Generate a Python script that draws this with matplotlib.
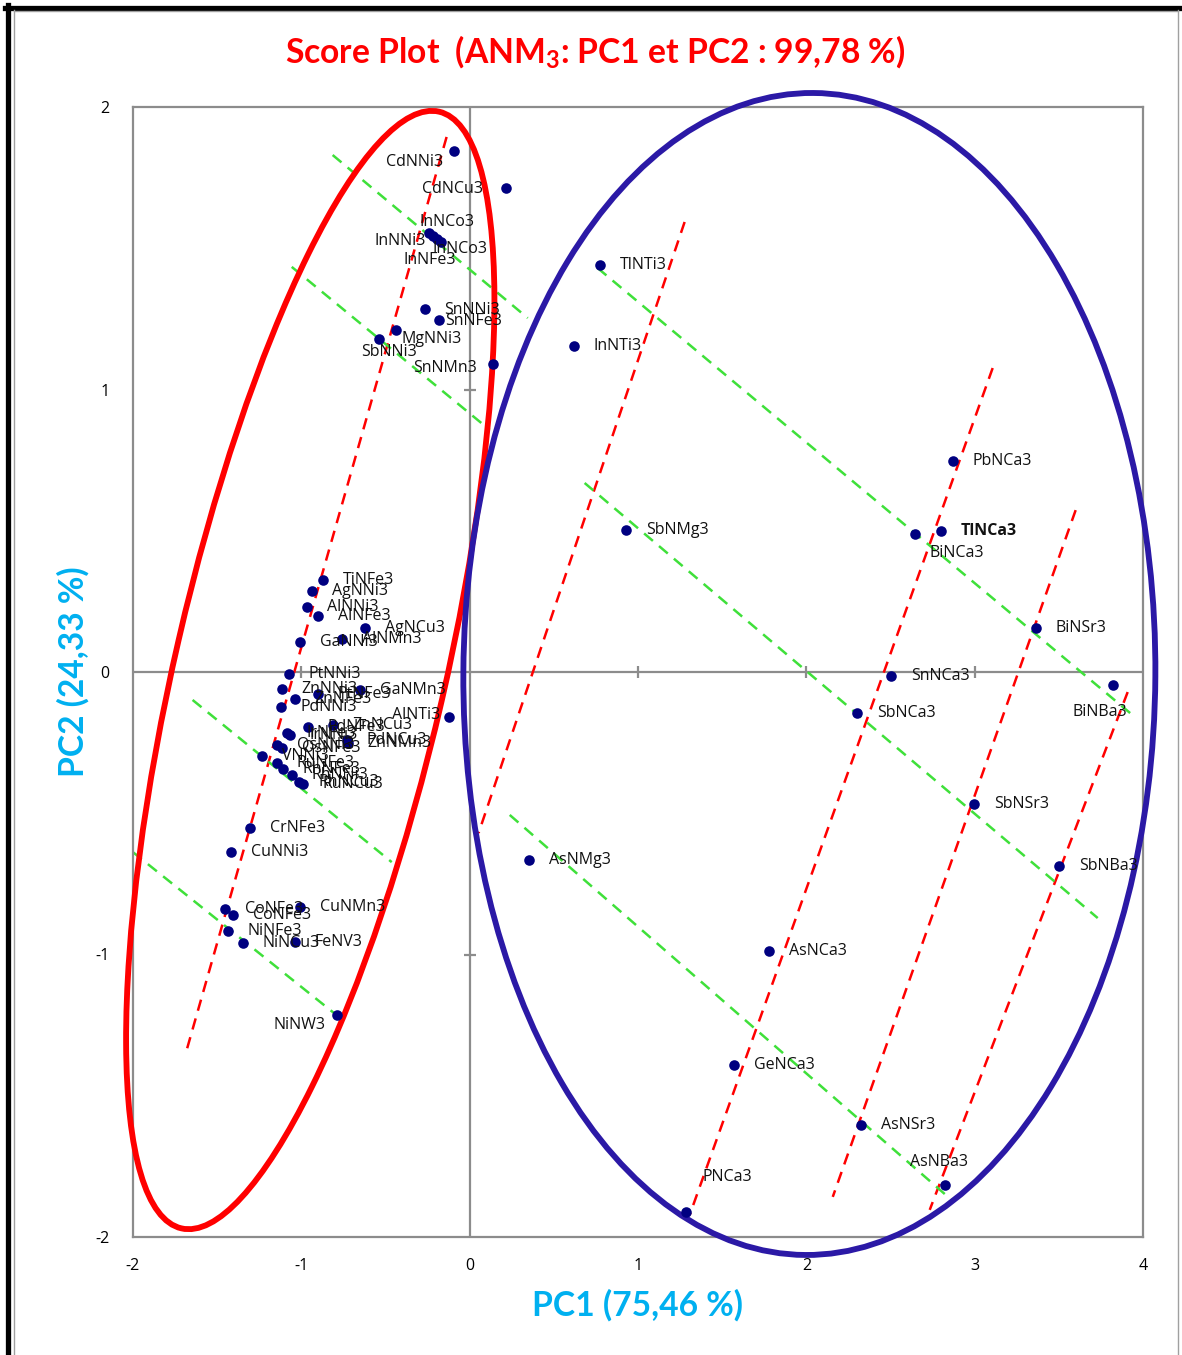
import matplotlib
matplotlib.use("Agg")
import matplotlib.pyplot as plt
from matplotlib.patches import Ellipse
from matplotlib.transforms import ScaledTranslation
from matplotlib.lines import Line2D

plt.rcParams['font.family'] = ['Open Sans', 'DejaVu Sans']
plt.rcParams['mathtext.fontset'] = 'custom'
plt.rcParams['mathtext.rm'] = 'Lato:bold'
plt.rcParams['mathtext.bf'] = 'Lato:bold'
plt.rcParams['mathtext.it'] = 'Lato:bold'

# ---------------- scores (PC1, PC2) ----------------
compounds = [
    # right-hand family
    "TlNTi3", "InNTi3", "PbNCa3", "SbNMg3", "TlNCa3", "BiNCa3", "BiNSr3",
    "SnNCa3", "BiNBa3", "SbNCa3", "SbNSr3", "SbNBa3", "AsNMg3", "AsNCa3",
    "GeNCa3", "AsNSr3", "AsNBa3", "PNCa3",
    # left-hand family, upper part
    "SnNMn3", "CdNCu3", "CdNNi3", "InNCo3", "InNNi3", "InNCo3", "InNFe3",
    "SnNNi3", "SnNFe3", "MgNNi3", "SbNNi3",
    # left-hand family, central part
    "TiNFe3", "AgNNi3", "AlNNi3", "AlNFe3", "AgNCu3", "AlNMn3", "GaNNi3",
    "PtNNi3", "ZnNNi3", "PtNFe3", "ZnNFe3", "GaNMn3", "PdNNi3", "AlNTi3",
    "PdNFe3", "ZnNCu3", "IrNFe3", "IrNNi3", "PdNCu3", "ZnNMn3", "OsNNi3",
    "OsNFe3", "VNNi3", "RuNFe3", "RhNFe3", "RhNNi3", "RhNCu3", "RuNCu3",
    # left-hand family, lower part
    "CrNFe3", "CuNNi3", "CoNFe3", "CoNFe3", "CuNMn3", "NiNFe3", "NiNCu3",
    "FeNV3", "NiNW3",
]
pc1 = [
    0.772, 0.618, 2.869, 0.927, 2.798, 2.644, 3.362,
    2.501, 3.820, 2.299, 2.994, 3.499, 0.350, 1.776,
    1.568, 2.323, 2.822, 1.283,
    0.137, 0.214, -0.095, -0.244, -0.220, -0.196, -0.172,
    -0.267, -0.184, -0.440, -0.541,
    -0.873, -0.939, -0.968, -0.903, -0.624, -0.760, -1.010,
    -1.075, -1.117, -0.903, -1.040, -0.654, -1.123, -0.125,
    -0.962, -0.814, -1.087, -1.069, -0.731, -0.725, -1.147,
    -1.117, -1.236, -1.147, -1.111, -1.058, -1.016, -0.992,
    -1.307, -1.420, -1.455, -1.408, -1.010, -1.438, -1.349,
    -1.040, -0.790,
]
pc2 = [
    1.441, 1.154, 0.747, 0.503, 0.499, 0.488, 0.156,
    -0.014, -0.046, -0.145, -0.467, -0.687, -0.665, -0.988,
    -1.391, -1.604, -1.816, -1.912,
    1.090, 1.713, 1.844, 1.554, 1.543, 1.533, 1.522,
    1.285, 1.246, 1.211, 1.179,
    0.326, 0.287, 0.230, 0.198, 0.156, 0.117, 0.106,
    -0.007, -0.060, -0.078, -0.096, -0.064, -0.124, -0.159,
    -0.195, -0.188, -0.216, -0.223, -0.241, -0.251, -0.258,
    -0.269, -0.297, -0.322, -0.343, -0.365, -0.389, -0.396,
    -0.552, -0.637, -0.839, -0.860, -0.832, -0.917, -0.959,
    -0.956, -1.214,
]

x_ticks = [-2, -1, 0, 1, 2, 3, 4]
y_ticks = [-2, -1, 0, 1, 2]

# hand-drawn guide segments ((x0, y0), (x1, y1)) in score units
red_guides = [
    ((-0.137, 1.894), (-1.681, -1.338)),
    ((1.277, 1.593), (0.053, -0.570)),
    ((3.107, 1.076), (1.307, -1.922)),
    ((3.600, 0.573), (2.157, -1.858)),
    ((3.909, -0.071), (2.733, -1.904)),
]
green_guides = [
    ((-0.814, 1.830), (0.345, 1.253)),
    ((-1.057, 1.434), (0.119, 0.857)),
    ((0.760, 1.430), (3.951, -0.159)),
    ((0.683, 0.669), (3.731, -0.871)),
    ((0.238, -0.506), (2.863, -1.869)),
    ((-1.646, -0.099), (-0.463, -0.673)),
    ((-2.002, -0.637), (-0.754, -1.232)),
]

# group envelopes: centre (score units), width/height (pixels), tilt (deg)
left_group = dict(center=(-0.947, 0.007), size=(270, 1146), angle=-13.0, color="#FF0000")
right_group = dict(center=(2.018, -0.007), size=(692, 1162), angle=-0.4, color="#2B19A6")

# label placement: pixel offset from the marker and horizontal alignment
DEFAULT_OFFSET = (20, 0, "left")
special_offsets = {
    5: (15, 19, "left"),      # BiNCa3
    8: (-40, 27, "left"),     # BiNBa3
    16: (-35, -23, "left"),   # AsNBa3
    17: (17, -35, "left"),    # PNCa3
    18: (-16, 4, "right"),    # SnNMn3
    19: (-23, 1, "right"),    # CdNCu3
    20: (-11, 11, "right"),   # CdNNi3
    21: (-9, -11, "left"),    # InNCo3
    22: (-7, 5, "right"),     # InNNi3
    23: (-4, 10, "left"),     # InNCo3
    24: (-37, 18, "left"),    # InNFe3
    25: (19, 1, "left"),      # SnNNi3
    26: (6, 1, "left"),       # SnNFe3
    27: (6, 9, "left"),       # MgNNi3
    28: (-17, 13, "left"),    # SbNNi3
    42: (-8, -2, "right"),    # AlNTi3
    65: (-11, 10, "right"),   # NiNW3
}
bold_labels = {"TlNCa3"}

W, H, DPI = 1182, 1355, 100
fig = plt.figure(figsize=(W / DPI, H / DPI), dpi=DPI)
fig.patch.set_facecolor("white")

L, R, T, B = 133, 1143, 107, 1237
ax = fig.add_axes([L / W, 1 - B / H, (R - L) / W, (B - T) / H])
ax.set_xlim(-2, 4)
ax.set_ylim(-2, 2)
ax.set_xticks(x_ticks)
ax.set_yticks(y_ticks)
ax.set_xticklabels([str(v) for v in x_ticks])
ax.set_yticklabels([str(v) for v in y_ticks])
ax.tick_params(length=0, labelsize=11.5, colors="#000000")
ax.tick_params(axis="y", pad=17)
ax.tick_params(axis="x", pad=15)
for s in ax.spines.values():
    s.set_color("#8C8C8C")
    s.set_linewidth(1.6)

grey = "#8C8C8C"
ax.axhline(0, color=grey, lw=1.6, zorder=1)
ax.axvline(0, color=grey, lw=1.6, zorder=1)
ax.plot([v for v in x_ticks if v not in (-2, 0, 4)], [0] * 4, ls="none",
        marker="|", ms=9, mew=1.6, color=grey, zorder=1)
ax.plot([0, 0], [v for v in y_ticks if v in (-1, 1)], ls="none",
        marker="_", ms=9, mew=1.6, color=grey, zorder=1)

for (x0, y0), (x1, y1) in red_guides:
    ax.plot([x0, x1], [y0, y1], color="#FF0000", lw=1.8, ls=(0, (4.6, 3.2)), zorder=2)
for (x0, y0), (x1, y1) in green_guides:
    ax.plot([x0, x1], [y0, y1], color="#3FE03A", lw=1.8, ls=(0, (4.6, 3.2)), zorder=2)

for g in (left_group, right_group):
    tr = fig.dpi_scale_trans + ScaledTranslation(*g["center"], ax.transData)
    e = Ellipse((0, 0), g["size"][0] / DPI, g["size"][1] / DPI, angle=g["angle"],
                transform=tr, fill=False, edgecolor=g["color"], lw=4.2,
                zorder=3, clip_on=False)
    ax.add_patch(e)

ax.scatter(pc1, pc2, s=58, color="#000080", zorder=5, linewidths=0)

for i, (name, x, y) in enumerate(zip(compounds, pc1, pc2)):
    dx, dy, ha = special_offsets.get(i, DEFAULT_OFFSET)
    ax.annotate(name, (x, y), xytext=(dx * 0.72, -dy * 0.72),
                textcoords="offset points", ha=ha, va="center",
                fontsize=11.5, color="#111111",
                fontweight="bold" if name in bold_labels else "normal",
                zorder=6)

# headline and axis titles
renderer = fig.canvas.get_renderer()


def fit_width(txt, target_px):
    fig.canvas.draw()
    w = txt.get_window_extent(renderer).width
    txt.set_fontsize(txt.get_fontsize() * target_px / w)


def fit_height(txt, target_px):
    fig.canvas.draw()
    h = txt.get_window_extent(renderer).height
    txt.set_fontsize(txt.get_fontsize() * target_px / h)


title = fig.text(595 / W, 1 - 52 / H, r"Score Plot  (ANM$_\mathbf{3}$: PC1 et PC2 : 99,78 %)",
                 ha="center", va="center", color="#FF0000", fontsize=22,
                 fontweight="bold", family="Lato")
fit_width(title, 620)
xl = fig.text(638 / W, 1 - 1305 / H, "PC1 (75,46 %)", ha="center", va="center",
              color="#00B0F0", fontsize=22, fontweight="bold", family="Lato")
fit_width(xl, 210)
yl = fig.text(73 / W, 1 - 672 / H, "PC2 (24,33 %)", ha="center", va="center",
              rotation=90, color="#00B0F0", fontsize=22, fontweight="bold", family="Lato")
fit_height(yl, 210)

# frame of the sheet
fig.add_artist(Line2D([7.5 / W, 7.5 / W], [0, 1 - 5 / H], color="black", lw=3.8))
fig.add_artist(Line2D([5 / W, 1], [1 - 7.5 / H, 1 - 7.5 / H], color="black", lw=3.8))
fig.add_artist(Line2D([13.5 / W, 13.5 / W], [0, 1 - 10 / H], color="#A0A0A0", lw=1.0))
fig.add_artist(Line2D([13.5 / W, 1178 / W], [1 - 10.5 / H, 1 - 10.5 / H], color="#A0A0A0", lw=1.0))
fig.add_artist(Line2D([1178 / W, 1178 / W], [0, 1 - 10 / H], color="#A0A0A0", lw=1.0))

fig.savefig("out.png", dpi=DPI, facecolor="white")
